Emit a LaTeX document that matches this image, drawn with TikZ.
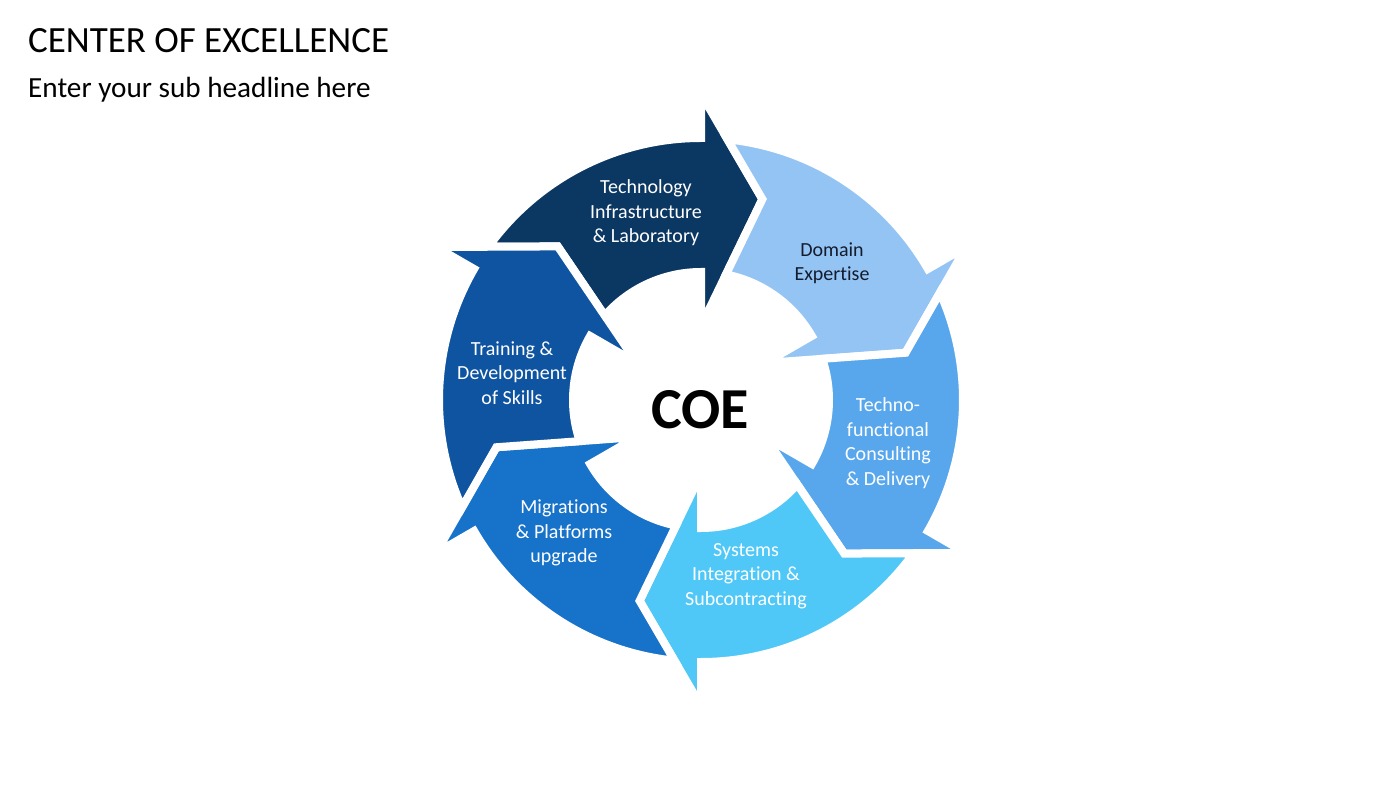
\documentclass[tikz,border=0pt]{standalone}
\usepackage{fontspec}
\setmainfont{Carlito}[Ligatures=NoCommon]
\definecolor{cTech}{RGB}{11,55,99}
\definecolor{cDom}{RGB}{148,196,244}
\definecolor{cFun}{RGB}{88,167,237}
\definecolor{cSys}{RGB}{79,200,247}
\definecolor{cMig}{RGB}{23,114,201}
\definecolor{cTra}{RGB}{15,84,160}
\definecolor{cDark}{RGB}{20,28,45}
\def\Ro{262}\def\Ri{128}\def\Rb{306}\def\rb{74}\def\Rt{210}\def\Lh{17}\def\dO{5.80}\def\dI{11.24}
\newcommand\cpiece[2]{%
  \path[fill=#2, seg] ({#1+60-\dO}:\Ro) arc[start angle={#1+60-\dO}, end angle=#1, radius=\Ro]
    -- (#1:\Rb) -- ({#1-\Lh}:\Rt) -- (#1:\rb) -- (#1:\Ri)
    arc[start angle=#1, end angle={#1+60-\dI}, radius=\Ri]
    -- ({#1+60-\Lh}:\Rt) -- cycle;}
\begin{document}
\begin{tikzpicture}[x=1pt,y=1pt,
  seg/.style={draw=white, line width=8pt, line join=miter},
  lbl/.style={align=center, text=white, font=\fontsize{20}{24.5}\selectfont, inner sep=0pt},
  hd/.style={anchor=base west, inner sep=0pt, text=black}]
\useasboundingbox (0,0) rectangle (1400,788);
\fill[white] (0,0) rectangle (1400,788);
\node[hd, font=\fontsize{37}{40}\selectfont] (title) at (28,735) {CENTER OF EXCELLENCE};
\node[hd, font=\fontsize{29.2}{32}\selectfont] (sub) at (28,690) {Enter your sub headline here};
\begin{scope}[shift={(701,388)}]
\cpiece{90}{cTech}
\cpiece{30}{cDom}
\cpiece{-30}{cFun}
\cpiece{-90}{cSys}
\cpiece{-150}{cMig}
\cpiece{-210}{cTra}
\end{scope}
\node[lbl] (tech) at (646,575) {Technology\\Infrastructure\\\& Laboratory};
\node[lbl, text=cDark] (dom) at (832,525) {Domain\\Expertise};
\node[lbl] (fun) at (888,345) {Techno-\\functional\\Consulting\\\& Delivery};
\node[lbl] (sys) at (746,212) {Systems\\Integration \&\\Subcontracting};
\node[lbl] (mig) at (564,255) {Migrations\\\& Platforms\\upgrade};
\node[lbl] (tra) at (512,415) {Training \&\\Development\\of Skills};
\node[font=\bfseries\fontsize{58}{60}\selectfont, inner sep=0pt] (coe) at (700,378) {COE};
\end{tikzpicture}
\end{document}
